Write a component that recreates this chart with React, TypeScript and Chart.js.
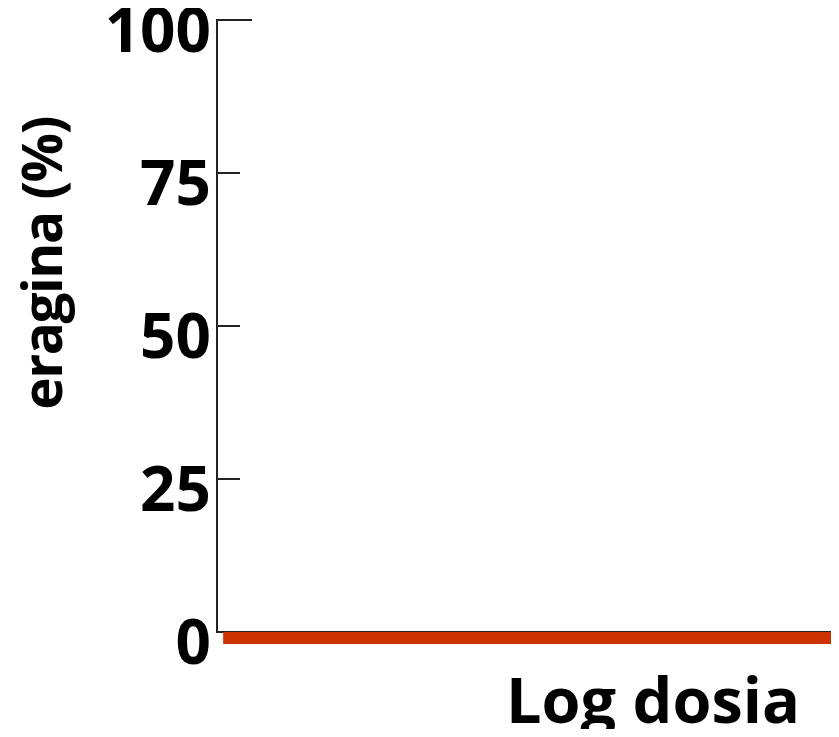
import React, { useEffect, useRef } from "react";
import { Chart, registerables } from "chart.js";

Chart.register(...registerables);

// Data
const DOSE_X: number[] = [0.1, 10];
const RESPONSE_Y: number[] = [-1, -1];
const Y_TICKS: number[] = [0, 25, 50, 75, 100];
const X_TITLE = "Log dosia";
const Y_TITLE = "eragina (%)";
const LINE_COLOR = "#CC3300";
const FONT = "'Open Sans', sans-serif";

const titlesPlugin = {
  id: "customTitles",
  afterDraw(chart: any) {
    const { ctx, chartArea } = chart;
    const yScale = chart.scales.y;
    ctx.save();
    // longer top tick
    const yTop = Math.round(yScale.getPixelForValue(100));
    ctx.strokeStyle = "#222";
    ctx.lineWidth = 2;
    ctx.beginPath();
    ctx.moveTo(chartArea.left + 20, yTop);
    ctx.lineTo(chartArea.left + 35, yTop);
    ctx.stroke();

    ctx.fillStyle = "#000";
    // x title
    ctx.font = `700 63px ${FONT}`;
    ctx.textAlign = "right";
    ctx.textBaseline = "alphabetic";
    ctx.fillText(X_TITLE, chartArea.right - 31, chartArea.bottom + 91);
    // y title
    ctx.translate(54, (chartArea.top + chartArea.bottom) / 2 - 62.5);
    ctx.rotate(-Math.PI / 2);
    ctx.font = `700 55px ${FONT}`;
    (ctx as any).letterSpacing = "-1.5px";
    ctx.textAlign = "center";
    ctx.fillText(Y_TITLE, 0, 0);
    ctx.restore();
  },
};

export default function App() {
  const ref = useRef<HTMLCanvasElement | null>(null);
  useEffect(() => {
    if (!ref.current) return;
    const chart = new Chart(ref.current, {
      type: "line",
      data: {
        datasets: [
          {
            data: DOSE_X.map((x, i) => ({ x, y: RESPONSE_Y[i] })),
            borderColor: LINE_COLOR,
            backgroundColor: LINE_COLOR,
            borderWidth: 12,
            borderCapStyle: "butt",
            pointRadius: 0,
            clip: false as any,
            tension: 0,
          },
        ],
      },
      options: {
        animation: false,
        responsive: true,
        maintainAspectRatio: false,
        layout: { padding: { left: 0, right: 0, top: 12, bottom: 105 } },
        plugins: { legend: { display: false }, tooltip: { enabled: false } },
        scales: {
          x: {
            type: "linear",
            min: 0,
            max: 10,
            ticks: { display: false },
            grid: { display: false, drawTicks: false },
            border: { display: true, color: "#222", width: 2 },
            afterFit: (s: any) => {
              s.height = 0;
              s.paddingLeft = 0;
              s.paddingRight = 0;
            },
          },
          y: {
            type: "linear",
            min: 0,
            max: 100,
            afterBuildTicks: (s: any) => {
              s.ticks = Y_TICKS.map((v) => ({ value: v }));
            },
            ticks: {
              color: "#000",
              font: { family: FONT, size: 62, weight: "bold" },
              padding: 29,
              labelOffset: 14,
            },
            grid: {
              drawOnChartArea: false,
              drawTicks: true,
              tickLength: -23,
              color: "#222",
              tickColor: "#222",
              tickWidth: 2,
              lineWidth: 2,
            },
            border: { display: true, color: "#222", width: 2 },
            afterFit: (s: any) => {
              s.width = 209;
              s.paddingTop = 0;
              s.paddingBottom = 0;
            },
          },
        },
      },
      plugins: [titlesPlugin],
    });
    return () => chart.destroy();
  }, []);
  return (
    <div style={{ width: 823, height: 729, marginBottom: -8, position: "relative" }}>
      <canvas ref={ref} />
    </div>
  );
}
